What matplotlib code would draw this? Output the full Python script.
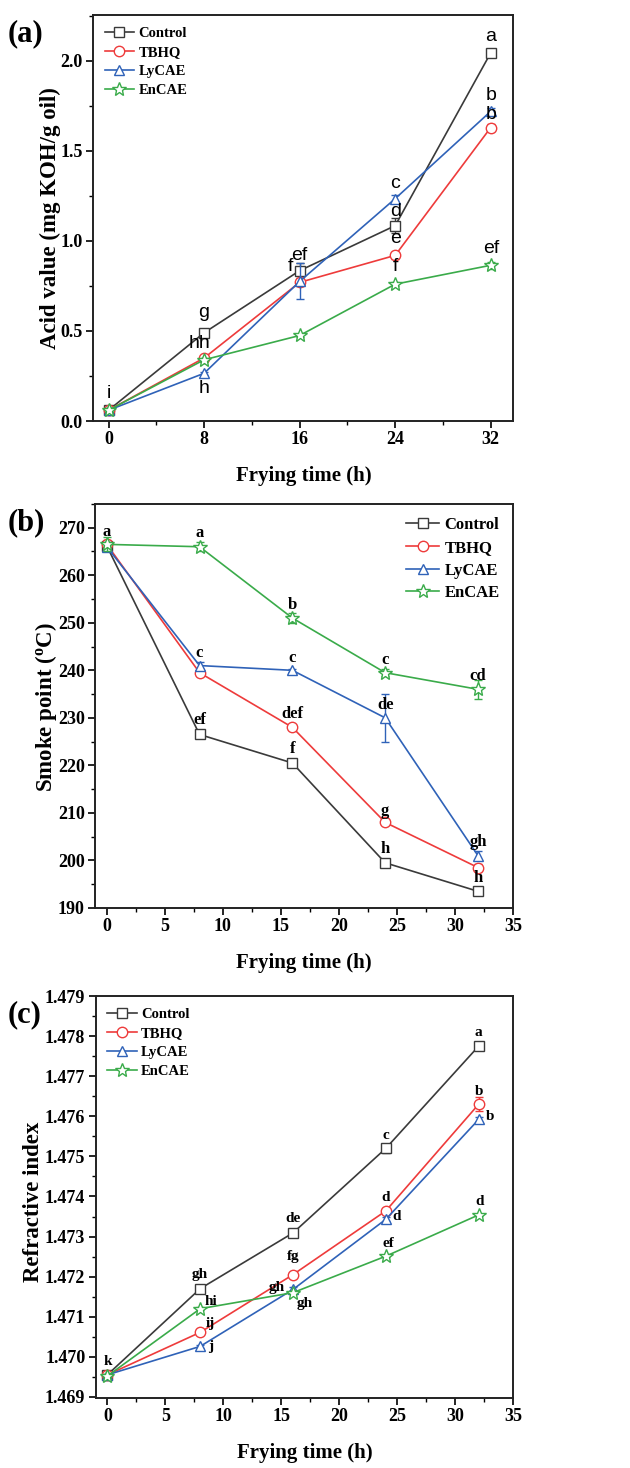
import numpy as np
import matplotlib
matplotlib.use("Agg")
import matplotlib.pyplot as plt
from matplotlib.ticker import MultipleLocator, FormatStrFormatter

plt.rcParams['font.family'] = ['Liberation Serif', 'DejaVu Serif']
plt.rcParams['font.weight'] = 'bold'
plt.rcParams['mathtext.fontset'] = 'custom'
plt.rcParams['mathtext.rm'] = 'Liberation Serif'
plt.rcParams['mathtext.bf'] = 'Liberation Serif:bold'

# Datos
hours = [0, 8, 16, 24, 32]
groups = ["Control", "TBHQ", "LyCAE", "EnCAE"]
colors = ["#3a3a3a", "#ee3b3b", "#2f62b8", "#3aab4a"]
markers = ["s", "o", "^", "*"]

# (a) acid value
acid = {
    "Control": [0.06, 0.49, 0.835, 1.085, 2.045],
    "TBHQ":    [0.06, 0.35, 0.77, 0.92, 1.63],
    "LyCAE":   [0.06, 0.265, 0.775, 1.235, 1.72],
    "EnCAE":   [0.06, 0.34, 0.475, 0.76, 0.865],
}
acid_err = {
    "Control": [0.01, 0.01, 0.04, 0.04, 0.01],
    "TBHQ":    [0.01, 0.01, 0.02, 0.02, 0.02],
    "LyCAE":   [0.01, 0.01, 0.10, 0.02, 0.02],
    "EnCAE":   [0.01, 0.01, 0.01, 0.01, 0.02],
}
acid_letters = [(0, 0.155, "i"), (8, 0.60, "g"), (7.6, 0.43, "hh"), (8, 0.18, "h"),
                (15.2, 0.857, "f"), (16, 0.92, "ef"), (24, 1.32, "c"), (24, 1.163, "d"),
                (24, 1.015, "e"), (24, 0.857, "f"), (32, 2.135, "a"), (32, 1.81, "b"),
                (32, 1.70, "b"), (32, 0.96, "ef")]

# (b) smoke point
smoke = {
    "Control": [266.2, 226.5, 220.5, 199.5, 193.5],
    "TBHQ":    [266.5, 239.5, 228.0, 208.0, 198.5],
    "LyCAE":   [266.0, 241.0, 240.0, 230.0, 201.0],
    "EnCAE":   [266.5, 266.0, 251.0, 239.5, 236.0],
}
smoke_err = {
    "Control": [1.0, 0.8, 0.8, 0.6, 0.8],
    "TBHQ":    [1.0, 0.8, 0.3, 0.3, 0.8],
    "LyCAE":   [1.0, 0.8, 0.3, 5.0, 1.0],
    "EnCAE":   [1.5, 1.0, 1.0, 0.8, 2.0],
}
smoke_letters = [(0, 269.2, "a"), (8, 268.8, "a"), (16, 253.7, "b"), (8, 243.6, "c"),
                 (16, 242.5, "c"), (24, 242.2, "c"), (32, 238.8, "cd"), (24, 232.7, "de"),
                 (8, 229.6, "ef"), (16, 230.8, "def"), (16, 223.4, "f"), (24, 210.3, "g"),
                 (24, 202.3, "h"), (32, 203.8, "gh"), (32, 196.3, "h")]

# (c) refractive index
refr = {
    "Control": [1.46955, 1.4717, 1.47309, 1.4752, 1.47775],
    "TBHQ":    [1.46955, 1.47061, 1.47205, 1.47364, 1.4763],
    "LyCAE":   [1.46955, 1.47026, 1.47168, 1.47343, 1.47592],
    "EnCAE":   [1.46952, 1.4712, 1.4716, 1.47251, 1.47354],
}
refr_err = {
    "Control": [0.00003, 0.00003, 0.00003, 0.00012, 0.00005],
    "TBHQ":    [0.00003, 0.00003, 0.00005, 0.00007, 0.00018],
    "LyCAE":   [0.00003, 0.00003, 0.00005, 0.00005, 0.00005],
    "EnCAE":   [0.00005, 0.00003, 0.00003, 0.00003, 0.00003],
}
refr_letters = [(0, 1.46988, "k"), (8, 1.47205, "gh"), (8.9, 1.47138, "hi"), (8.9, 1.47083, "ij"),
                (8.9, 1.47025, "j"), (16, 1.47345, "de"), (16, 1.4725, "fg"), (14.6, 1.47172, "gh"),
                (17.0, 1.47133, "gh"), (24, 1.47553, "c"), (24, 1.47398, "d"), (24.9, 1.47350, "d"),
                (24.2, 1.47283, "ef"), (32, 1.47808, "a"), (32, 1.47663, "b"), (33.0, 1.476, "b"),
                (32.1, 1.47388, "d")]


def draw(ax, data, err, letters, letter_font, letter_size, leg_loc, leg_size, bold):
    for g, c, m in zip(groups, colors, markers):
        ms = 10 if m == "*" else 7.5
        ax.errorbar(hours, data[g], yerr=err[g], color=c, fmt="none", capsize=3,
                    elinewidth=1.0, capthick=1.0)
        ax.plot(hours, data[g], color=c, marker=m, ms=ms, mfc="white", mec=c,
                mew=1.0, lw=1.2, label=g)
    for x, y, t in letters:
        ax.text(x, y, t, ha="center", va="center", fontsize=letter_size,
                family=letter_font, fontweight="bold" if bold else "normal")
    ax.legend(loc=leg_loc, frameon=False, fontsize=leg_size, handlelength=2.0,
              handletextpad=0.3, labelspacing=0.4, borderaxespad=0.4)
    for sp in ax.spines.values():
        sp.set_linewidth(1.4)
        sp.set_color("#222222")
    ax.tick_params(which="major", direction="out", length=5, width=1.2, labelsize=13, pad=2.5)
    ax.tick_params(which="minor", direction="out", length=3, width=1.0)
    ax.set_xlabel("Frying time (h)", fontsize=15, fontweight="bold", labelpad=13)


fig = plt.figure(figsize=(6.3, 14.68), dpi=100)

ax1 = fig.add_axes([0.148, 0.7132, 0.667, 0.2766])
draw(ax1, acid, acid_err, acid_letters, ["Liberation Sans", "DejaVu Sans"], 14,
     "upper left", 10.5, False)
ax1.set_xlim(-1.28, 33.9)
ax1.set_ylim(0, 2.255)
ax1.xaxis.set_major_locator(MultipleLocator(8))
ax1.xaxis.set_minor_locator(MultipleLocator(4))
ax1.yaxis.set_major_locator(MultipleLocator(0.5))
ax1.yaxis.set_minor_locator(MultipleLocator(0.25))
ax1.set_ylabel("Acid value (mg KOH/g oil)", fontsize=16.5, fontweight="bold")
ax1.yaxis.set_label_coords(-0.076, 0.5)

ax2 = fig.add_axes([0.151, 0.3815, 0.663, 0.2752])
draw(ax2, smoke, smoke_err, smoke_letters, ["Liberation Serif", "DejaVu Serif"], 12,
     "upper right", 12, True)
ax2.set_xlim(-1, 35)
ax2.set_ylim(190, 275)
ax2.xaxis.set_major_locator(MultipleLocator(5))
ax2.xaxis.set_minor_locator(MultipleLocator(2.5))
ax2.yaxis.set_major_locator(MultipleLocator(10))
ax2.yaxis.set_minor_locator(MultipleLocator(5))
ax2.set_ylabel("Smoke point ($\\mathregular{^{o}}$C)", fontsize=16.5, fontweight="bold")
ax2.yaxis.set_label_coords(-0.086, 0.498)

ax3 = fig.add_axes([0.152, 0.0479, 0.663, 0.2736])
draw(ax3, refr, refr_err, refr_letters, ["Liberation Serif", "DejaVu Serif"], 11,
     "upper left", 10.5, True)
ax3.set_xlim(-1, 35)
ax3.set_ylim(1.46898, 1.479)
ax3.xaxis.set_major_locator(MultipleLocator(5))
ax3.xaxis.set_minor_locator(MultipleLocator(2.5))
ax3.yaxis.set_major_locator(MultipleLocator(0.001))
ax3.yaxis.set_minor_locator(MultipleLocator(0.0005))
ax3.yaxis.set_major_formatter(FormatStrFormatter("%.3f"))
ax3.set_ylabel("Refractive index", fontsize=16.5, fontweight="bold")
ax3.yaxis.set_label_coords(-0.124, 0.487)

for lab, y in [("(a)", 0.977), ("(b)", 0.644), ("(c)", 0.309)]:
    fig.text(0.012, y, lab, fontsize=22, fontweight="bold", va="center")

fig.savefig("out.png", dpi=100)
